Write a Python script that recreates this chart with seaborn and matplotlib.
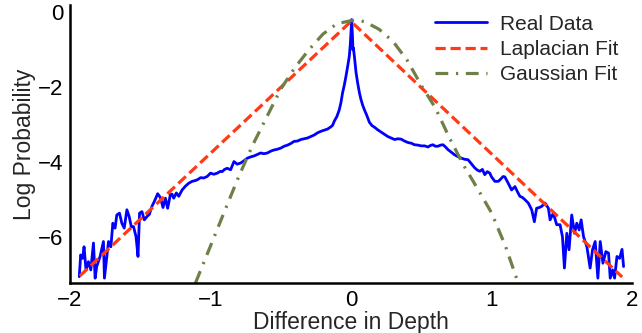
import numpy as np
import pandas as pd
import matplotlib
matplotlib.use("Agg")
import matplotlib.pyplot as plt
import seaborn as sns

# ---- data ----
real_x = [-1.934, -1.924, -1.91, -1.90, -1.886, -1.869, -1.852, -1.833, -1.821, -1.81,
          -1.786, -1.762, -1.755, -1.738, -1.726, -1.709, -1.695, -1.679, -1.667, -1.648,
          -1.631, -1.614, -1.595, -1.579, -1.564, -1.548, -1.53, -1.516, -1.505, -1.488,
          -1.471, -1.452, -1.435, -1.417, -1.40, -1.376, -1.357, -1.338, -1.321, -1.305,
          -1.286, -1.274, -1.262, -1.243, -1.226, -1.202, -1.179, -1.155, -1.131, -1.11,
          -1.095, -1.07, -1.048, -1.024, -1.0, -0.976, -0.952, -0.929, -0.917, -0.90,
          -0.881, -0.857, -0.833, -0.81, -0.786, -0.762, -0.738, -0.71, -0.69, -0.667,
          -0.643, -0.62, -0.595, -0.57, -0.548, -0.524, -0.50, -0.476, -0.452, -0.43,
          -0.405, -0.38, -0.357, -0.333, -0.31, -0.286, -0.262, -0.238, -0.214, -0.19,
          -0.167, -0.143, -0.131, -0.119, -0.10, -0.083, -0.071, -0.06, -0.048, -0.036,
          -0.024, -0.012, -0.005, 0.0, 0.005, 0.010, 0.014, 0.017, 0.024, 0.036,
          0.048, 0.06, 0.071, 0.083, 0.095, 0.113, 0.131, 0.15, 0.167, 0.19,
          0.214, 0.238, 0.262, 0.286, 0.31, 0.333, 0.357, 0.38, 0.405, 0.43,
          0.452, 0.476, 0.50, 0.524, 0.548, 0.565, 0.583, 0.60, 0.619, 0.637,
          0.655, 0.673, 0.69, 0.714, 0.738, 0.762, 0.786, 0.81, 0.833, 0.857,
          0.881, 0.90, 0.917, 0.935, 0.952, 0.97, 0.988, 1.0, 1.024, 1.048,
          1.06, 1.083, 1.095, 1.119, 1.143, 1.167, 1.185, 1.202, 1.22, 1.238,
          1.262, 1.286, 1.305, 1.321, 1.34, 1.357, 1.381, 1.405, 1.417, 1.44,
          1.464, 1.488, 1.505, 1.519, 1.536, 1.552, 1.571, 1.591, 1.607, 1.624,
          1.638, 1.655, 1.679, 1.702, 1.719, 1.738, 1.757, 1.774, 1.793, 1.814,
          1.833, 1.845, 1.862, 1.876, 1.893, 1.912, 1.929, 1.94]
real_y = [-7.07, -6.49, -6.58, -6.27, -6.89, -6.67, -6.89, -6.17, -7.11, -6.80,
          -6.53, -6.13, -7.11, -6.53, -6.13, -6.27, -5.64, -5.77, -5.42, -5.37,
          -5.64, -5.77, -5.28, -5.46, -5.73, -5.73, -6.00, -6.53, -5.37, -5.33,
          -5.55, -5.46, -5.40, -5.19, -5.06, -4.85, -4.95, -5.22, -4.97, -5.24,
          -4.88, -4.86, -4.97, -4.83, -4.92, -4.75, -4.65, -4.57, -4.52, -4.50,
          -4.48, -4.42, -4.43, -4.39, -4.30, -4.33, -4.30, -4.25, -4.26, -4.20,
          -4.17, -4.21, -3.99, -4.06, -4.03, -3.97, -3.90, -3.86, -3.84, -3.80,
          -3.76, -3.78, -3.76, -3.71, -3.68, -3.66, -3.63, -3.58, -3.55, -3.51,
          -3.45, -3.44, -3.40, -3.38, -3.36, -3.32, -3.28, -3.22, -3.18, -3.15,
          -3.12, -3.06, -3.02, -2.91, -2.78, -2.60, -2.40, -2.15, -1.95, -1.71,
          -1.45, -1.17, -0.85, -0.54, -0.19, -0.60, -1.00, -0.95, -1.17, -1.61,
          -1.90, -2.15, -2.33, -2.48, -2.60, -2.76, -2.94, -3.03, -3.07, -3.14,
          -3.20, -3.26, -3.32, -3.36, -3.40, -3.38, -3.39, -3.44, -3.48, -3.50,
          -3.54, -3.55, -3.57, -3.57, -3.60, -3.56, -3.54, -3.58, -3.58, -3.55,
          -3.54, -3.60, -3.67, -3.74, -3.81, -3.86, -3.90, -3.93, -3.94, -4.05,
          -4.16, -4.22, -4.25, -4.20, -4.34, -4.26, -4.30, -4.40, -4.52, -4.52,
          -4.48, -4.39, -4.40, -4.57, -4.75, -4.66, -4.80, -4.92, -4.95, -5.01,
          -5.10, -5.28, -5.60, -5.24, -5.22, -5.19, -5.10, -5.24, -5.55, -5.37,
          -5.68, -5.68, -6.00, -6.84, -5.91, -6.35, -5.42, -5.91, -5.64, -5.82,
          -5.55, -6.00, -6.27, -6.84, -6.35, -6.13, -7.11, -6.13, -6.71, -6.40,
          -6.44, -7.11, -6.89, -7.11, -6.53, -6.58, -6.34, -6.80]

lap_x = [-1.93, 0.0, 1.93]
lap_y = [-7.05, -0.24, -7.08]

gau_x = [-1.107, -1.0, -0.9, -0.8, -0.7, -0.6, -0.5, -0.4, -0.3, -0.2, -0.1, 0.0, 0.05,
         0.1, 0.2, 0.3, 0.4, 0.5, 0.6, 0.7, 0.8, 0.9, 1.0, 1.1, 1.19]
gau_y = [-7.24, -6.25, -5.32, -4.40, -3.55, -2.80, -2.05, -1.48, -1.00, -0.58, -0.30, -0.22, -0.21,
         -0.25, -0.45, -0.78, -1.28, -1.95, -2.55, -3.35, -4.08, -4.71, -5.36, -6.26, -7.24]

series_labels = ["Real Data", "Laplacian Fit", "Gaussian Fit"]
xticks = [-2, -1, 0, 1, 2]
yticks = [-6, -4, -2, 0]

# ---- plotting ----
sns.set_style("white")
plt.rcParams['font.family'] = ['Liberation Sans', 'DejaVu Sans']

fig = plt.figure(figsize=(6.42, 3.33), dpi=100)
ax = fig.add_axes([70/642, 1-283/333, 562/642, 278/333])

df_real = pd.DataFrame({"x": real_x, "y": real_y})
df_lap = pd.DataFrame({"x": lap_x, "y": lap_y})
df_gau = pd.DataFrame({"x": gau_x, "y": gau_y})

sns.lineplot(data=df_real, x="x", y="y", ax=ax, color="#0000ff", lw=2.0,
             estimator=None, sort=False, label=series_labels[0])
sns.lineplot(data=df_lap, x="x", y="y", ax=ax, color="#ff3a14", lw=2.3,
             estimator=None, sort=False, label=series_labels[1],
             linestyle=(0, (3.2, 1.5)))
sns.lineplot(data=df_gau, x="x", y="y", ax=ax, color="#6e7f47", lw=2.3,
             estimator=None, sort=False, label=series_labels[2],
             linestyle=(0, (4, 2.4, 0.7, 2.4)))

ax.set_xlim(-2, 2)
ax.set_ylim(-7.24, 0.2)
ax.set_xticks(xticks)
ax.set_yticks(yticks)
ax.set_xticklabels([("\u2212" + str(abs(t))) if t < 0 else str(t) for t in xticks])
ax.set_yticklabels([("\u2212" + str(abs(t))) if t < 0 else str(t) for t in yticks])
ax.tick_params(direction="in", length=5, width=1.6, labelsize=16, colors="black", pad=5)
ax.set_xlabel("Difference in Depth", fontsize=16.5, labelpad=0)
ax.set_ylabel("Log Probability", fontsize=16.5, labelpad=1)

for s in ["top", "right"]:
    ax.spines[s].set_visible(False)
for s in ["left", "bottom"]:
    ax.spines[s].set_color("black")
    ax.spines[s].set_linewidth(1.8)

leg = ax.legend(loc="upper right", bbox_to_anchor=(0.99, 0.995), frameon=False,
                fontsize=15, handlelength=2.5, handletextpad=0.6, labelspacing=0.3,
                borderaxespad=0.0)

fig.savefig("out.png", dpi=100)
